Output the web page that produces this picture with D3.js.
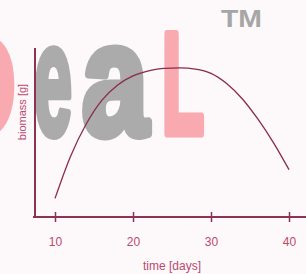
<!DOCTYPE html>
<html>
<head>
<meta charset="utf-8">
<script src="https://cdn.jsdelivr.net/npm/d3@7"></script>
<style>
  body { margin: 0; background: #fdf8fa; }
  svg { display: block; }
</style>
</head>
<body>
<script>
var days = [10, 12, 14, 16, 18, 20, 22, 24, 26, 28, 30, 32, 34, 36, 38, 40];
var biomass = [1.1, 3.6, 5.5, 6.9, 7.8, 8.35, 8.65, 8.8, 8.82, 8.75, 8.5, 7.9, 7.0, 5.8, 4.4, 2.8];
var xTicks = [10, 20, 30, 40];

var width = 306, height = 274;
var svg = d3.select('body').append('svg').attr('width', width).attr('height', height);

// watermark behind the chart
var wm = svg.append('g').attr('font-family', 'Liberation Sans Narrow, Liberation Sans, sans-serif')
  .attr('font-weight', 'bold').attr('stroke-linejoin', 'round');
var pink = '#f9aab0', grey = '#ababab';
wm.append('text').attr('x', -42).attr('y', 134).attr('font-size', 140).attr('textLength', 58).attr('lengthAdjust', 'spacingAndGlyphs')
  .attr('fill', pink).attr('stroke', pink).attr('stroke-width', 6).text('D');
wm.append('text').attr('x', 34).attr('y', 134).attr('font-size', 158).attr('textLength', 38).attr('lengthAdjust', 'spacingAndGlyphs')
  .attr('fill', grey).attr('stroke', grey).attr('stroke-width', 8).text('e');
wm.append('text').attr('x', 82).attr('y', 134).attr('font-size', 158).attr('textLength', 66).attr('lengthAdjust', 'spacingAndGlyphs')
  .attr('fill', grey).attr('stroke', grey).attr('stroke-width', 9).text('a');
wm.append('text').attr('x', 162).attr('y', 133).attr('font-size', 142).attr('textLength', 42).attr('lengthAdjust', 'spacingAndGlyphs')
  .attr('fill', pink).attr('stroke', pink).attr('stroke-width', 9).text('L');
wm.append('text').attr('x', 221).attr('y', 27).attr('font-size', 23).attr('textLength', 41).attr('lengthAdjust', 'spacingAndGlyphs')
  .attr('fill', '#a6a6a6').text('TM');

var x = d3.scaleLinear().domain([10, 40]).range([55, 289]);
var y = d3.scaleLinear().domain([0, 10]).range([217, 48]);

var axisColor = '#8c3355';
var textColor = '#bb4a6c';

// x axis
var xAxis = svg.append('g').attr('transform', 'translate(0,217)')
  .call(d3.axisBottom(x).tickValues(xTicks).tickSize(0).tickPadding(20));
xAxis.select('.domain').remove();
xAxis.selectAll('text').attr('fill', textColor).attr('font-size', 12).attr('font-family', 'Liberation Sans, sans-serif');
xAxis.append('line').attr('x1', 33).attr('x2', 306).attr('stroke', axisColor).attr('stroke-width', 2);
xAxis.selectAll('.tick').append('line').attr('y1', -5).attr('y2', 5).attr('stroke', axisColor).attr('stroke-width', 1.5);

// y axis
svg.append('line').attr('x1', 35).attr('x2', 35).attr('y1', y(10)).attr('y2', 218)
  .attr('stroke', axisColor).attr('stroke-width', 2);

svg.append('text').attr('x', 172).attr('y', 270).attr('text-anchor', 'middle')
  .attr('fill', textColor).attr('font-size', 12).attr('font-family', 'Liberation Sans, sans-serif').text('time [days]');
svg.append('text').attr('transform', 'translate(26,112) rotate(-90)').attr('text-anchor', 'middle')
  .attr('fill', textColor).attr('font-size', 11).attr('font-family', 'Liberation Sans, sans-serif').text('biomass [g]');

var line = d3.line().x(function(d, i) { return x(days[i]); }).y(function(d) { return y(d); }).curve(d3.curveMonotoneX);
svg.append('path').attr('d', line(biomass)).attr('fill', 'none').attr('stroke', '#8a2a4c').attr('stroke-width', 1.3);
</script>
</body>
</html>
